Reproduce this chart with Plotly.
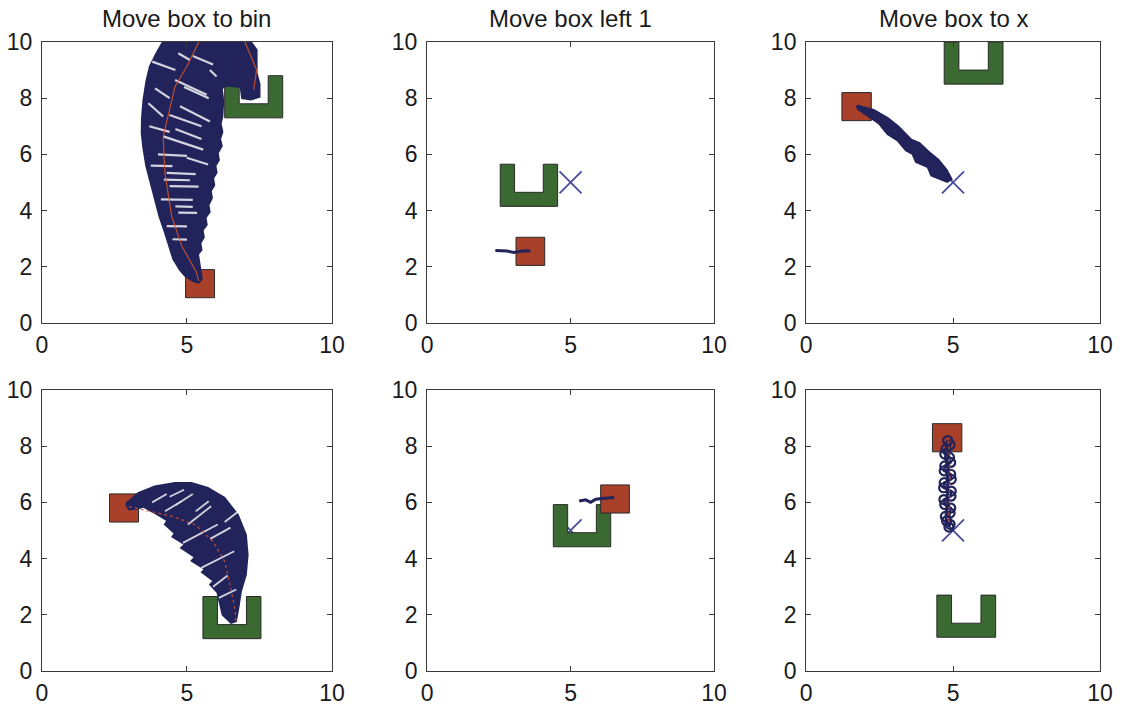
import plotly.graph_objects as go

# ---- panel data ---------------------------------------------------------
titles = ["Move box to bin", "Move box left 1", "Move box to x", "", "", ""]

# lower-left corner of the (1 x 1) box in each panel
box_x = [4.95, 3.10, 1.22, 2.33, 6.05, 4.30]
box_y = [0.90, 2.05, 7.20, 5.30, 5.62, 7.80]

# lower-left corner of the U-shaped bin (2 wide, 1.5 tall, 0.5 walls)
bin_x = [6.30, 2.55, 4.70, 5.55, 4.40, 4.45]
bin_y = [7.30, 4.15, 8.50, 1.15, 4.42, 1.20]

# target "x" marker (None where the task has no target point)
target_x = [None, 5.0, 5.0, None, 5.0, 5.0]
target_y = [None, 5.0, 5.0, None, 5.0, 5.0]

# swept region of the hand trajectories (outline polygons)
sweep1_x = [4.17, 3.95, 3.72, 3.60, 3.50, 3.45, 3.44, 3.50, 3.60, 3.75, 3.90, 4.05,
            4.24, 4.40, 4.53, 4.75, 4.93, 5.20, 5.39, 5.51, 5.45, 5.38, 5.50, 5.46,
            5.58, 5.54, 5.68, 5.64, 5.78, 5.74, 5.86, 5.82, 5.94, 5.90, 6.02, 5.98,
            6.10, 6.06, 6.20, 6.14, 6.22, 6.16, 6.22, 6.25, 6.20, 6.35, 6.85, 6.90,
            7.20, 7.50, 7.50, 7.40, 7.40, 7.23, 7.20]
sweep1_y = [10.0, 9.60, 9.12, 8.60, 7.94, 7.30, 6.76, 6.20, 5.58, 5.00, 4.40, 3.80,
            3.22, 2.70, 2.27, 1.90, 1.68, 1.50, 1.44, 1.56, 2.03, 2.45, 2.60, 2.85,
            3.05, 3.30, 3.50, 3.75, 3.95, 4.20, 4.45, 4.70, 4.90, 5.15, 5.35, 5.60,
            5.80, 6.05, 6.30, 6.55, 6.80, 7.10, 7.35, 7.90, 8.35, 8.45, 8.40, 8.00,
            7.95, 8.05, 8.50, 8.90, 9.72, 9.95, 10.0]

sweep3_x = [1.73, 2.30, 2.78, 3.14, 3.58, 3.86, 4.16, 4.50, 4.78, 4.95, 4.80, 4.55,
            4.26, 4.14, 3.74, 3.62, 3.40, 3.11, 2.77, 2.49, 2.04, 1.76]
sweep3_y = [7.74, 7.58, 7.29, 6.99, 6.52, 6.40, 6.10, 5.81, 5.45, 5.12, 5.02, 5.13,
            5.25, 5.55, 5.73, 6.02, 6.14, 6.50, 6.73, 7.09, 7.40, 7.62]

sweep4_x = [2.90, 3.32, 3.89, 4.58, 5.15, 5.72, 6.29, 6.75, 7.03, 7.09, 7.03, 6.86,
            6.78, 6.69, 6.52, 6.23, 6.12, 6.05, 5.80, 5.92, 5.52, 5.62, 5.16, 5.28,
            4.80, 4.93, 4.50, 4.58, 4.24, 4.33, 3.88, 3.50, 3.30, 3.00]
sweep4_y = [5.95, 6.33, 6.57, 6.69, 6.69, 6.51, 6.16, 5.56, 4.85, 4.14, 3.43, 2.84,
            2.30, 1.77, 1.71, 2.00, 2.48, 2.80, 3.08, 3.20, 3.52, 3.62, 3.92, 4.05,
            4.38, 4.50, 4.78, 4.90, 5.22, 5.35, 5.63, 5.85, 5.78, 5.75]

# light streaks inside the swept regions (segments separated by None)
streak1_x = [4.70, 5.10, None, 4.59, 5.68, None, 4.76, 5.79, None, 4.18, 5.56, None,
             4.99, 5.73, None, 3.67, 4.18, None, 5.79, 6.02, None, 3.90, 4.40, None,
             4.30, 5.30, None, 4.40, 5.40, None, 4.10, 5.20, None, 4.70, 5.35, None,
             4.30, 5.00, None, 4.50, 5.00, None, 3.80, 4.60, None, 4.90, 5.75, None,
             3.70, 4.40, None, 4.00, 5.00, None, 4.60, 5.50, None, 3.75, 4.50, None,
             4.20, 5.10, None, 4.60, 5.20, None, 5.20, 5.90, None, 4.40, 5.50]
streak1_y = [9.60, 9.36, None, 8.65, 8.12, None, 7.71, 7.17, None, 6.64, 6.17, None,
             5.88, 5.64, None, 7.82, 7.35, None, 9.00, 8.77, None, 8.35, 8.00, None,
             5.34, 5.30, None, 4.87, 4.85, None, 4.40, 4.38, None, 3.93, 3.92, None,
             3.45, 3.44, None, 2.98, 2.97, None, 9.30, 9.00, None, 8.40, 8.00, None,
             7.00, 6.80, None, 6.00, 5.95, None, 6.90, 6.55, None, 5.60, 5.58, None,
             5.10, 5.08, None, 4.15, 4.13, None, 9.50, 9.20, None, 7.40, 7.00]

streak4_x = [4.86, 6.06, None, 5.49, 6.63, None, 5.03, 5.83, None, 4.24, 4.81, None,
             5.30, 5.75, None, 4.40, 4.90, None, 5.90, 6.40, None, 3.80, 4.30, None,
             5.80, 6.50, None, 4.60, 5.20, None, 6.10, 6.70, None, 6.30, 6.80]
streak4_y = [4.56, 5.21, None, 3.67, 4.26, None, 5.21, 5.86, None, 5.68, 6.04, None,
             5.68, 6.04, None, 6.20, 6.45, None, 3.00, 3.40, None, 6.00, 6.30, None,
             4.70, 5.10, None, 5.90, 6.30, None, 2.60, 2.90, None, 5.30, 5.70]

# mean hand path (red) in the two long reaches
mean1_x = [5.40, 5.33, 4.82, 4.47, 4.24, 4.18, 4.59, 4.99, 5.60, 6.40, 7.00, 7.40, 7.30]
mean1_y = [1.50, 1.80, 2.74, 3.80, 5.34, 6.64, 8.42, 9.12, 10.4, 10.4, 10.0, 9.00, 8.30]
mean4_x = [3.00, 3.60, 4.50, 5.30, 5.90, 6.30, 6.50, 6.65, 6.70]
mean4_y = [5.85, 5.70, 5.50, 5.20, 4.60, 3.90, 3.00, 2.20, 1.70]
mean3_x = [1.80, 3.10, 4.90]
mean3_y = [7.70, 6.95, 5.10]

# short jittery pushes and the looping pull
path2_x = [2.38, 2.79, 3.02, 3.19, 3.37, 3.60]
path2_y = [2.58, 2.56, 2.51, 2.54, 2.57, 2.56]
path5_x = [5.30, 5.53, 5.70, 5.88, 6.11, 6.52]
path5_y = [6.05, 6.09, 6.00, 6.11, 6.14, 6.17]
path6_x = [4.82, 4.90, 4.76, 4.72, 4.88, 4.92, 4.72, 4.70, 4.92, 4.94, 4.70, 4.68,
           4.94, 4.93, 4.69, 4.72, 4.92, 4.90, 4.74, 4.78, 4.90, 4.86]
path6_y = [8.20, 8.05, 7.90, 7.72, 7.60, 7.42, 7.30, 7.12, 7.00, 6.82, 6.70, 6.52,
           6.40, 6.22, 6.10, 5.92, 5.80, 5.62, 5.50, 5.34, 5.22, 5.12]
mean6_x = [4.85, 4.90, 4.85]
mean6_y = [8.20, 7.00, 5.30]

# ---- styling --------------------------------------------------------------
NAVY = "#22235a"
XCOL = "#4a4a9c"
RED = "#a8402a"
GREEN = "#3a6a32"
EDGE = "#2a2a2a"
MEAN = "#d9552c"
FONT = "Liberation Sans, Arial, sans-serif"

BOX = 1.0
BIN_W, BIN_H, WALL = 2.0, 1.5, 0.5

col_dom = [(0.0374, 0.2959), (0.3806, 0.6364), (0.7184, 0.9804)]
row_dom = [(0.5438, 0.9407), (0.0523, 0.4492)]


def ax_names(i):
    return ("x" if i == 0 else f"x{i + 1}", "y" if i == 0 else f"y{i + 1}")


def box_poly(x0, y0):
    return ([x0, x0 + BOX, x0 + BOX, x0, x0], [y0, y0, y0 + BOX, y0 + BOX, y0])


def bin_poly(x0, y0):
    xs = [x0, x0 + BIN_W, x0 + BIN_W, x0 + BIN_W - WALL, x0 + BIN_W - WALL,
          x0 + WALL, x0 + WALL, x0, x0]
    ys = [y0, y0, y0 + BIN_H, y0 + BIN_H, y0 + WALL, y0 + WALL, y0 + BIN_H,
          y0 + BIN_H, y0]
    return xs, ys


fig = go.Figure()

sweeps = {0: (sweep1_x, sweep1_y), 2: (sweep3_x, sweep3_y), 3: (sweep4_x, sweep4_y)}
streaks = {0: (streak1_x, streak1_y, 2.2), 3: (streak4_x, streak4_y, 1.8)}
means = {0: (mean1_x, mean1_y, "solid"), 2: (mean3_x, mean3_y, "solid"),
         3: (mean4_x, mean4_y, "dot"), 5: (mean6_x, mean6_y, "dot")}
paths = {1: (path2_x, path2_y), 4: (path5_x, path5_y)}

for i in range(6):
    xa, ya = ax_names(i)
    common = dict(xaxis=xa, yaxis=ya, showlegend=False, hoverinfo="skip")

    if target_x[i] is not None:
        fig.add_trace(go.Scatter(x=[target_x[i]], y=[target_y[i]], mode="markers",
                                 marker=dict(symbol="x-thin", size=22,
                                             line=dict(color=XCOL, width=1.8)),
                                 **common))

    bx, by = bin_poly(bin_x[i], bin_y[i])
    fig.add_trace(go.Scatter(x=bx, y=by, mode="lines", fill="toself",
                             fillcolor=GREEN, line=dict(color=EDGE, width=1),
                             **common))
    rx, ry = box_poly(box_x[i], box_y[i])
    fig.add_trace(go.Scatter(x=rx, y=ry, mode="lines", fill="toself",
                             fillcolor=RED, line=dict(color=EDGE, width=1),
                             **common))

    if i == 2:
        mx, my, dash = means[i]
        fig.add_trace(go.Scatter(x=mx, y=my, mode="lines",
                                 line=dict(color=MEAN, width=1.5), **common))

    if i in sweeps:
        sx, sy = sweeps[i]
        fig.add_trace(go.Scatter(x=sx + [sx[0]], y=sy + [sy[0]], mode="lines",
                                 fill="toself", fillcolor=NAVY,
                                 line=dict(color=NAVY, width=2), **common))
    if i in streaks:
        tx, ty, w = streaks[i]
        fig.add_trace(go.Scatter(x=tx, y=ty, mode="lines",
                                 line=dict(color="white", width=w),
                                 opacity=0.8, **common))
    if i in paths:
        px, py = paths[i]
        fig.add_trace(go.Scatter(x=px, y=py, mode="lines",
                                 line=dict(color=NAVY, width=3), **common))
    if i == 5:
        fig.add_trace(go.Scatter(x=path6_x, y=path6_y, mode="lines+markers",
                                 line=dict(color=NAVY, width=2.5),
                                 marker=dict(symbol="circle-open", size=9,
                                             line=dict(color=NAVY, width=2.2)),
                                 **common))
    if i in means and i != 2:
        mx, my, dash = means[i]
        fig.add_trace(go.Scatter(x=mx, y=my, mode="lines",
                                 line=dict(color=MEAN, width=1.2, dash=dash),
                                 opacity=0.85, **common))

axis_style = dict(range=[0, 10], showline=True, mirror="allticks", linecolor="#3a3a3a",
                  linewidth=1, ticks="inside", ticklen=5, tickcolor="#3a3a3a",
                  showgrid=False, zeroline=False, fixedrange=True, automargin=False,
                  tickfont=dict(family=FONT, size=23, color="#1a1a1a"))

layout = dict(width=1122, height=708, margin=dict(l=0, r=0, t=0, b=0),
              paper_bgcolor="white", plot_bgcolor="white", annotations=[])

for i in range(6):
    r, c = divmod(i, 3)
    xa, ya = ax_names(i)
    xkey = "xaxis" if i == 0 else f"xaxis{i + 1}"
    ykey = "yaxis" if i == 0 else f"yaxis{i + 1}"
    layout[xkey] = dict(axis_style, domain=list(col_dom[c]), anchor=ya,
                        tickvals=[0, 5, 10], ticklabelstandoff=1)
    layout[ykey] = dict(axis_style, domain=list(row_dom[r]), anchor=xa,
                        tickvals=[0, 2, 4, 6, 8, 10], ticklabelstandoff=4)
    if titles[i]:
        layout["annotations"].append(dict(
            text=titles[i], xref="paper", yref="paper",
            x=(col_dom[c][0] + col_dom[c][1]) / 2, y=row_dom[r][1],
            xanchor="center", yanchor="bottom", yshift=8, showarrow=False,
            font=dict(family=FONT, size=24, color="#1a1a1a")))

fig.update_layout(**layout)
fig.write_html("out.html")
